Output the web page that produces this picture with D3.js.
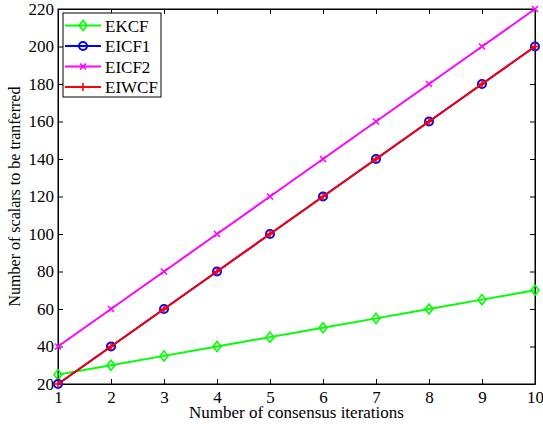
<!DOCTYPE html>
<html>
<head>
<meta charset="utf-8">
<script src="https://d3js.org/d3.v7.min.js"></script>
<style>
  body { margin: 0; background: #fff; }
  svg text { font-family: "Liberation Serif", "Times New Roman", serif; fill: #000; }
  .axis path, .axis line { stroke: #000; }
</style>
</head>
<body>
<div id="chart"></div>
<script>
// Data
const iterations = [1, 2, 3, 4, 5, 6, 7, 8, 9, 10];
const ekcf  = [25, 30, 35, 40, 45, 50, 55, 60, 65, 70];
const eicf1 = [20, 40, 60, 80, 100, 120, 140, 160, 180, 200];
const eicf2 = [40, 60, 80, 100, 120, 140, 160, 180, 200, 220];
const eiwcf = [20, 40, 60, 80, 100, 120, 140, 160, 180, 200];
const yTicks = [20, 40, 60, 80, 100, 120, 140, 160, 180, 200, 220];

const series = [
  { name: "EKCF",  values: ekcf,  color: "#00ff00", marker: "diamond" },
  { name: "EICF1", values: eicf1, color: "#0000ff", marker: "circle" },
  { name: "EICF2", values: eicf2, color: "#ff00ff", marker: "cross" },
  { name: "EIWCF", values: eiwcf, color: "#ff0000", marker: "plus" }
];

const width = 543, height = 430;
const margin = { top: 9, right: 8, bottom: 46, left: 58 };
const innerWidth = width - margin.left - margin.right;
const innerHeight = height - margin.top - margin.bottom;
const fontSize = "17px";

const svg = d3.select("#chart").append("svg")
  .attr("width", width).attr("height", height);

const g = svg.append("g")
  .attr("transform", `translate(${margin.left},${margin.top})`);

const x = d3.scaleLinear().domain([1, 10]).range([0, innerWidth]);
const y = d3.scaleLinear().domain([20, 220]).range([innerHeight, 0]);

// Axes (MATLAB style, ticks inside)
const tickLen = 5;
g.append("g").attr("class", "axis")
  .attr("transform", `translate(0,${innerHeight})`)
  .call(d3.axisBottom(x).tickValues(iterations).tickSize(-tickLen).tickSizeOuter(0).tickPadding(7))
  .selectAll("text").style("font-size", fontSize);

g.append("g").attr("class", "axis")
  .call(d3.axisLeft(y).tickValues(yTicks).tickSize(-tickLen).tickSizeOuter(0).tickPadding(4))
  .selectAll("text").style("font-size", fontSize);

const topAxis = g.append("g").attr("class", "axis")
  .call(d3.axisTop(x).tickValues(iterations).tickSize(-tickLen).tickSizeOuter(0));
topAxis.selectAll("text").remove();

const rightAxis = g.append("g").attr("class", "axis")
  .attr("transform", `translate(${innerWidth},0)`)
  .call(d3.axisRight(y).tickValues(yTicks).tickSize(-tickLen).tickSizeOuter(0));
rightAxis.selectAll("text").remove();

g.append("rect")
  .attr("width", innerWidth).attr("height", innerHeight)
  .attr("fill", "none").attr("stroke", "#000");

// Marker drawing
function drawMarker(sel, type, color) {
  if (type === "diamond") {
    sel.append("path").attr("d", "M0,-5L4,0L0,5L-4,0Z")
      .attr("fill", "none").attr("stroke", color).attr("stroke-width", 1.6);
  } else if (type === "circle") {
    sel.append("circle").attr("r", 4)
      .attr("fill", "none").attr("stroke", color).attr("stroke-width", 2);
  } else if (type === "cross") {
    sel.append("path").attr("d", "M-3,-3L3,3M-3,3L3,-3")
      .attr("stroke", color).attr("stroke-width", 1.6);
  } else if (type === "plus") {
    sel.append("path").attr("d", "M-4,0L4,0M0,-4L0,4")
      .attr("stroke", color).attr("stroke-width", 1.6);
  }
}

const line = d3.line()
  .x((d, i) => x(iterations[i]))
  .y(d => y(d));

series.forEach(s => {
  g.append("path")
    .datum(s.values)
    .attr("d", line)
    .attr("fill", "none")
    .attr("stroke", s.color)
    .attr("stroke-width", 2);

  s.values.forEach((v, i) => {
    const m = g.append("g").attr("transform", `translate(${x(iterations[i])},${y(v)})`);
    drawMarker(m, s.marker, s.color);
  });
});

// Legend
const legend = g.append("g").attr("transform", "translate(5,4)");
legend.append("rect")
  .attr("width", 98).attr("height", 84)
  .attr("fill", "#fff").attr("stroke", "#000");

series.forEach((s, i) => {
  const row = legend.append("g").attr("transform", `translate(0,${12.5 + i * 20.5})`);
  row.append("line")
    .attr("x1", 2).attr("x2", 38)
    .attr("stroke", s.color).attr("stroke-width", 2);
  const m = row.append("g").attr("transform", "translate(20,0)");
  drawMarker(m, s.marker, s.color);
  row.append("text")
    .attr("x", 42).attr("y", 6)
    .style("font-size", fontSize)
    .text(s.name);
});

// Axis labels
svg.append("text")
  .attr("x", margin.left + innerWidth / 2)
  .attr("y", 418)
  .attr("text-anchor", "middle")
  .style("font-size", fontSize)
  .text("Number of consensus iterations");

svg.append("text")
  .attr("transform", `translate(20,${margin.top + innerHeight / 2}) rotate(-90)`)
  .attr("text-anchor", "middle")
  .style("font-size", "16px")
  .text("Number of scalars to be tranferred");
</script>
</body>
</html>
